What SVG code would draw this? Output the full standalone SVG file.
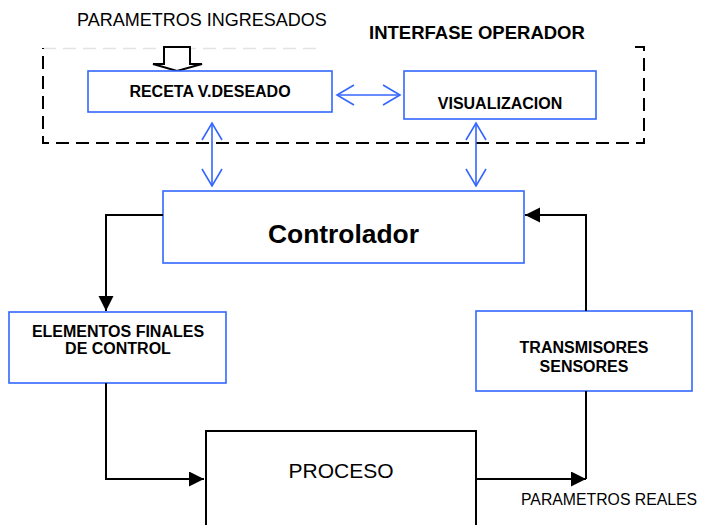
<svg xmlns="http://www.w3.org/2000/svg" width="701" height="525" viewBox="0 0 701 525">
<style>
  .bx{fill:#fff;stroke:#3366ff;stroke-width:1.6}
  .pb{fill:#fff;stroke:#000;stroke-width:2}
  .t{font-family:"Liberation Sans",Arial,sans-serif;fill:#000}
  .b{font-weight:bold}
  .blk{fill:none;stroke:#000;stroke-width:2}
  .blu{fill:none;stroke:#3366ff;stroke-width:1.6}
</style>
<defs>
  <marker id="ah" markerUnits="userSpaceOnUse" markerWidth="16" markerHeight="16" viewBox="0 0 16 16" refX="15" refY="7.5" orient="auto">
    <path d="M0,0 L15,7.5 L0,15 Z" fill="#000"/>
  </marker>
  <marker id="oh" markerUnits="userSpaceOnUse" markerWidth="20" markerHeight="24" viewBox="-1 -1 20 24" refX="17" refY="10" orient="auto-start-reverse">
    <path d="M0,0 L17,10 L0,20" fill="none" stroke="#3366ff" stroke-width="1.6"/>
  </marker>
</defs>
<rect width="701" height="525" fill="#fff"/>

<g id="interfase">
  <path d="M43,48.5 H322" fill="none" stroke="#e2e2e2" stroke-width="1.5" stroke-dasharray="13 7"/>
  <path d="M635,47 H644 V143 H43 V48" fill="none" stroke="#000" stroke-width="2" stroke-dasharray="13 7"/>
  <text class="t b" x="369" y="39" font-size="18.5">INTERFASE OPERADOR</text>
</g>

<g id="parametros-ingresados">
  <text class="t" x="77" y="26" font-size="18" fill="#111">PARAMETROS INGRESADOS</text>
  <polygon points="164,47 190,47 190,64 202,64 177,71 153,64 164,64" fill="#fff" stroke="#000" stroke-width="2"/>
</g>

<g id="receta">
  <rect class="bx" x="88" y="71" width="244" height="41"/>
  <text class="t b" x="210" y="97" font-size="16" text-anchor="middle">RECETA V.DESEADO</text>
</g>

<g id="visualizacion">
  <rect class="bx" x="404" y="71" width="192" height="48"/>
  <text class="t b" x="500" y="109" font-size="16" text-anchor="middle">VISUALIZACION</text>
</g>

<g id="controlador">
  <rect class="bx" x="163" y="191" width="361" height="72"/>
  <text class="t b" x="343.5" y="243" font-size="26.4" text-anchor="middle">Controlador</text>
</g>

<g id="elementos">
  <rect class="bx" x="9" y="312" width="217" height="71"/>
  <text class="t b" x="118" y="337" font-size="16" text-anchor="middle">ELEMENTOS FINALES</text>
  <text class="t b" x="118" y="354" font-size="16" text-anchor="middle">DE CONTROL</text>
</g>

<g id="transmisores">
  <rect class="bx" x="476" y="311" width="216" height="80"/>
  <text class="t b" x="584" y="353" font-size="16" text-anchor="middle">TRANSMISORES</text>
  <text class="t b" x="584" y="372" font-size="16" text-anchor="middle">SENSORES</text>
</g>

<g id="proceso">
  <rect class="pb" x="206" y="431" width="270" height="110"/>
  <text class="t" x="341" y="478" font-size="21" text-anchor="middle">PROCESO</text>
</g>

<g id="parametros-reales">
  <text class="t" x="521" y="505" font-size="15.8" fill="#111">PARAMETROS REALES</text>
</g>

<g id="connectors">
  <path class="blu" d="M337,95 H400" marker-start="url(#oh)" marker-end="url(#oh)"/>
  <path class="blu" d="M212,123 V186" marker-start="url(#oh)" marker-end="url(#oh)"/>
  <path class="blu" d="M476,123 V186" marker-start="url(#oh)" marker-end="url(#oh)"/>
  <path class="blk" d="M163,215 H106 V311" marker-end="url(#ah)"/>
  <path class="blk" d="M106,383 V479 H204" marker-end="url(#ah)"/>
  <path class="blk" d="M476,479 H586" marker-end="url(#ah)"/>
  <path class="blk" d="M586,479 V391"/>
  <path class="blk" d="M586,311 V215 H525" marker-end="url(#ah)"/>
</g>
</svg>
